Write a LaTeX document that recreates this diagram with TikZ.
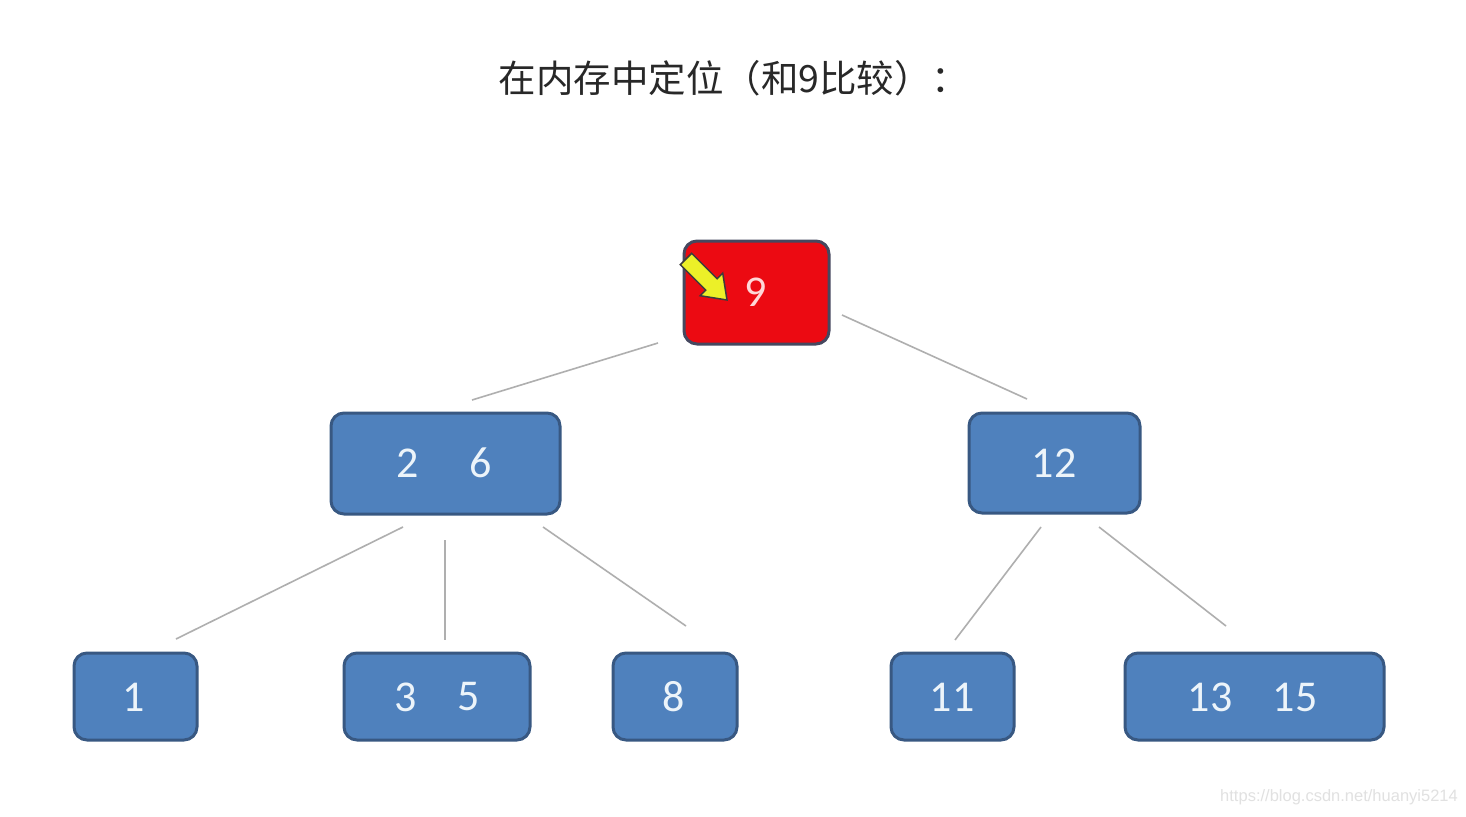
\documentclass[tikz,border=0pt]{standalone}
\usepackage{fontspec}
\newfontfamily\cjk{Noto Sans CJK SC}
\newfontfamily\numfont{Carlito}
\newfontfamily\wmfont{Liberation Sans}
\definecolor{boxblue}{RGB}{79,129,189}
\definecolor{boxedge}{RGB}{56,88,130}
\definecolor{rootred}{RGB}{236,10,18}
\definecolor{rootedge}{RGB}{70,72,95}
\definecolor{numtext}{RGB}{236,244,250}
\definecolor{linegray}{RGB}{175,175,175}
\definecolor{arrowyellow}{RGB}{236,240,40}
\begin{document}
\begin{tikzpicture}[x=1pt,y=-1pt,
  treebox/.style={draw=boxedge,fill=boxblue,line width=3pt,rounded corners=13pt,inner sep=0pt},
  numtxt/.style={text=numtext,font=\numfont\fontsize{44}{50}\selectfont,inner sep=0pt,anchor=center},
  edgeline/.style={draw=linegray,line width=1.6pt}]
\useasboundingbox (0,0) rectangle (1466,816);
\fill[white] (0,0) rectangle (1466,816);
% title
\node[font=\cjk\fontsize{37.5}{42}\selectfont,text={rgb,255:red,40;green,40;blue,40},anchor=center] (title) at (734,78) {在内存中定位（和9比较）：};
% boxes
\draw[draw=rootedge,fill=rootred,line width=3pt,rounded corners=13pt] (684,241) rectangle (829,344);
\node[inner sep=0pt] (root) at (756,292) {};
\draw[treebox] (331,413) rectangle (560,514);
\node[inner sep=0pt] (n26) at (445,463) {};
\draw[treebox] (969,413) rectangle (1140,513);
\node[inner sep=0pt] (n12) at (1054,463) {};
\draw[treebox] (74,653) rectangle (197,740);
\node[inner sep=0pt] (n1) at (135,697) {};
\draw[treebox] (344,653) rectangle (530,740);
\node[inner sep=0pt] (n35) at (437,697) {};
\draw[treebox] (613,653) rectangle (737,740);
\node[inner sep=0pt] (n8) at (675,697) {};
\draw[treebox] (891,653) rectangle (1014,740);
\node[inner sep=0pt] (n11) at (952,697) {};
\draw[treebox] (1125,653) rectangle (1384,740);
\node[inner sep=0pt] (n1315) at (1254,697) {};
% numbers
\node[numtxt,text={rgb,255:red,255;green,215;blue,215}] (t9) at (756,292) {9};
\node[numtxt] (t2) at (408,463) {2};
\node[numtxt] (t6) at (481,463) {6};
\node[numtxt] (t12) at (1054,463) {12};
\node[numtxt] (t1) at (134,697) {1};
\node[numtxt] (t3) at (406,697) {3};
\node[numtxt] (t5) at (469,697) {5};
\node[numtxt] (t8) at (674,697) {8};
\node[numtxt] (t11) at (952,697) {11};
\node[numtxt] (t13) at (1210,697) {13};
\node[numtxt] (t15) at (1295,697) {15};
% yellow arrow
\draw[fill=arrowyellow,draw={rgb,255:red,60;green,60;blue,60},line width=1.5pt,line join=miter]
  (691.7,253.3) -- (717.1,278.7) -- (722.7,273.1) -- (727,300) -- (700.1,295.7) -- (705.7,290.1) -- (680.3,264.7) -- cycle;
% connector end points
\coordinate (rA) at (658,343); \coordinate (lA) at (472,400);
\coordinate (rB) at (842,315); \coordinate (lB) at (1027,399);
\coordinate (a1) at (403,527); \coordinate (b1) at (176,639);
\coordinate (a2) at (445,540); \coordinate (b2) at (445,640);
\coordinate (a3) at (543,527); \coordinate (b3) at (686,626);
\coordinate (a4) at (1041,527); \coordinate (b4) at (955,640);
\coordinate (a5) at (1099,527); \coordinate (b5) at (1226,626);
\draw[edgeline] (rA) -- (lA);
\draw[edgeline] (rB) -- (lB);
\draw[edgeline] (a1) -- (b1);
\draw[edgeline] (a2) -- (b2);
\draw[edgeline] (a3) -- (b3);
\draw[edgeline] (a4) -- (b4);
\draw[edgeline] (a5) -- (b5);
% watermark
\node[font=\wmfont\fontsize{16.5}{19}\selectfont,text={rgb,255:red,225;green,225;blue,225},anchor=east,inner sep=0pt] (wm) at (1458,797) {https://blog.csdn.net/huanyi5214};
\end{tikzpicture}
\end{document}
